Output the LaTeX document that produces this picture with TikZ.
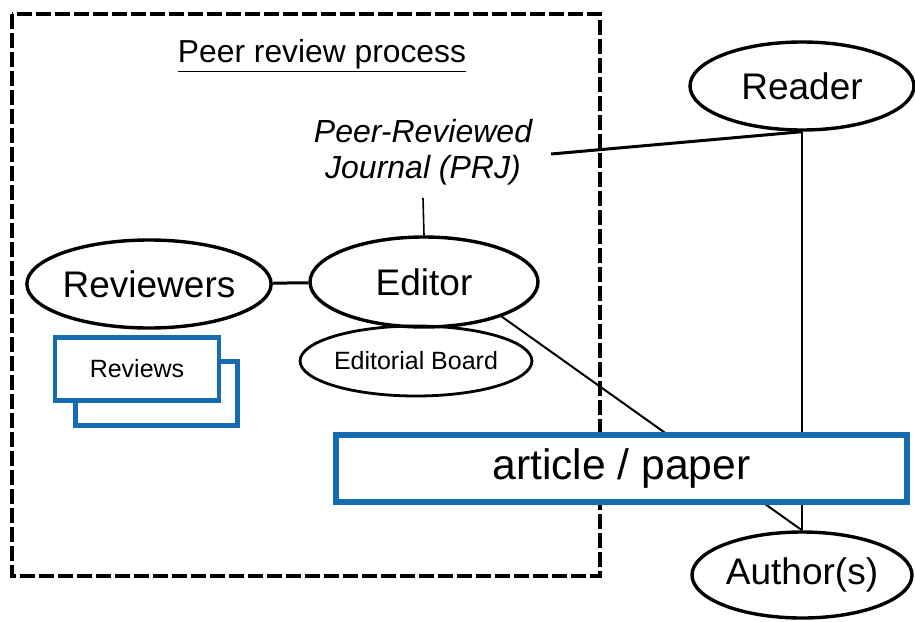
\documentclass[tikz,border=0pt]{standalone}
\usepackage{fontspec}
\setmainfont{Liberation Sans}
\usetikzlibrary{shapes}
\usetikzlibrary{positioning}
\definecolor{docblue}{RGB}{22,108,178}
\tikzset{>=stealth}
\tikzset{actor/.style={ellipse,draw,line width=1.7pt,inner sep=0pt,font=\fontsize{18.5}{22}\selectfont}}
\tikzset{docbox/.style={rectangle,draw=docblue,fill=white,inner sep=0pt}}
\tikzset{link/.style={draw,line width=1.5pt}}

\begin{document}
\begin{tikzpicture}[x=0.5pt,y=-0.5pt]
				\useasboundingbox (0,0) rectangle (915,621);
				% peer review frame
				\draw[line width=2pt,dash pattern=on 7.5pt off 2pt] (12,14) rectangle (600,576);
				\node (title) at (322,56) {\fontsize{15.9}{18}\selectfont\underline{Peer review process}};
				\node[align=center,font=\fontsize{16}{18}\selectfont\itshape] (prj) at (423,152) {Peer-Reviewed\\Journal (PRJ)};
				% actors
				\node[actor,minimum width=112pt,minimum height=44pt] (reader) at (802,86) {Reader};
				\node[actor,minimum width=116pt,minimum height=44pt] (reviewers) at (149,284) {Reviewers};
				\node[actor,minimum width=114pt,minimum height=45pt] (editor) at (424,282) {Editor};
				\node[actor,line width=1.4pt,minimum width=113pt,minimum height=35pt,font=\fontsize{12.5}{15}\selectfont] (board) at (416,361) {Editorial Board};
				\node[actor,minimum width=110pt,minimum height=43pt] (author) at (802,575) {Author(s)};
				% reviews
				\node[docbox,line width=2.2pt,minimum width=81pt,minimum height=32pt] (reviews2) at (156.5,393.5) {};
				\node[docbox,line width=2.2pt,minimum width=82pt,minimum height=31.5pt,font=\fontsize{12.5}{15}\selectfont] (reviews) at (137,369) {Reviews};
				% connectors
				\draw[link] (reviewers) -- (editor);
				\draw[line width=0.8pt] ([yshift=-3pt]prj.south) -- (editor.north);
				\draw[link] ([xshift=6pt,yshift=-1pt]prj.east) -- (reader.south);
				\draw[line width=0.8pt] (reader.south) -- (author.north);
				\draw[line width=1pt] (editor.-24) -- (author.north);
				% article
				\node[docbox,line width=3pt,minimum width=285.5pt,minimum height=33.5pt,font=\fontsize{21.3}{25}\selectfont] (article) at (621.5,468.5) {article / paper};
\end{tikzpicture}
\end{document}
